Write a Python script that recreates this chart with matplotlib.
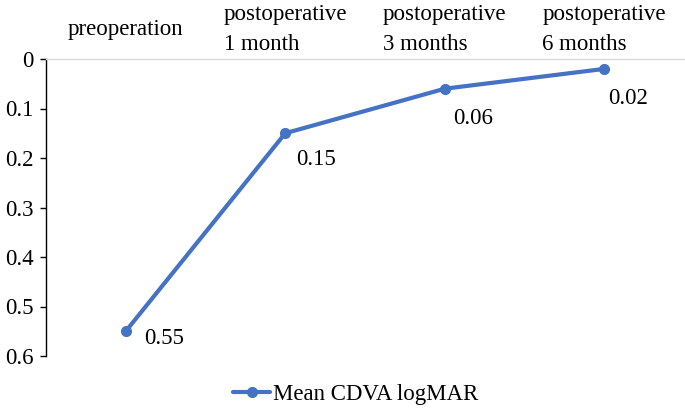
import matplotlib
matplotlib.use('Agg')
import matplotlib.pyplot as plt

# data
categories = ['preoperation', 'postoperative\n1 month', 'postoperative\n3 months', 'postoperative\n6 months']
cdva = [0.55, 0.15, 0.06, 0.02]
value_labels = ['0.55', '0.15', '0.06', '0.02']
series_name = 'Mean CDVA logMAR'

plt.rcParams['font.family'] = ['Liberation Serif', 'DejaVu Serif']
fs = 16.5
plt.rcParams['font.size'] = fs

blue = '#4472C4'

fig = plt.figure(figsize=(6.85, 4.08), dpi=100)
ax = fig.add_axes([46/685, 1-356/408, 638/685, 297/408])

x = list(range(len(categories)))
ax.plot(x, cdva, color=blue, lw=3, marker='o', ms=7, label=series_name,
        solid_capstyle='round')

# data labels (offsets in points)
offsets = [(13, 2), (8, -11), (6, -14), (3, -14)]
for xi, yi, txt, off in zip(x, cdva, value_labels, offsets):
    ax.annotate(txt, (xi, yi), xytext=off, textcoords='offset points',
                ha='left', va='top', fontsize=fs)

ax.set_xlim(-0.5, len(categories) - 0.5)
ax.set_ylim(0.6, 0)
ax.set_yticks([0, 0.1, 0.2, 0.3, 0.4, 0.5, 0.6])
ax.set_yticklabels(['0', '0.1', '0.2', '0.3', '0.4', '0.5', '0.6'])

ax.xaxis.tick_top()
ax.set_xticks(x)
ax.set_xticklabels(categories, multialignment='left', linespacing=1.55)
ax.tick_params(axis='x', length=0, pad=21)
for lab in ax.get_xticklabels():
    lab.set_va('center')

ax.tick_params(axis='y', direction='out', length=4.5, width=1, color='black', pad=4.5)

for s in ['right', 'bottom']:
    ax.spines[s].set_visible(False)
ax.spines['top'].set_color('#d9d9d9')
ax.spines['top'].set_linewidth(1)
ax.spines['left'].set_color('black')
ax.spines['left'].set_linewidth(1)
ax.spines['left'].set_bounds(0, 0.6)

fig.legend(loc='center', bbox_to_anchor=(356/685, 1-394/408), frameon=False,
           handlelength=1.6, handletextpad=0.15, fontsize=fs,
           borderpad=0, borderaxespad=0)

fig.savefig('out.png', dpi=100)
